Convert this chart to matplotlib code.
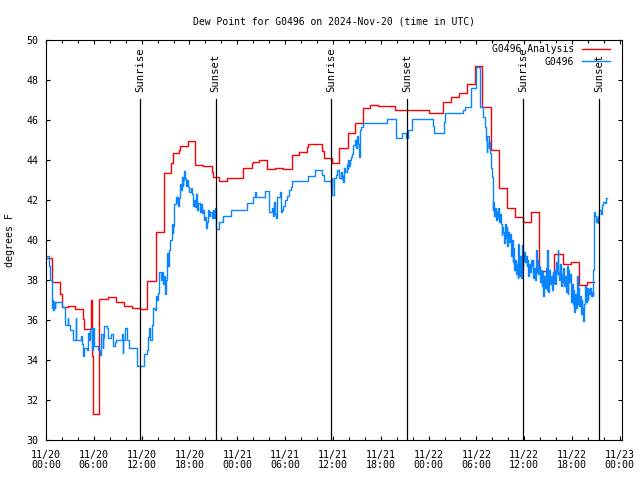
import matplotlib
matplotlib.use('Agg')
import matplotlib.pyplot as plt
from matplotlib.ticker import MultipleLocator

# Hours since 2024-11-20 00:00 UTC, dew point in degrees F
red_hours = [0.0, 0.72, 1.76, 1.95, 2.72, 3.64, 4.68, 4.81, 5.65, 5.81,
             5.93, 6.69, 7.74, 8.75, 9.82, 10.75, 11.79, 12.71, 13.76, 14.84,
             15.68, 15.9, 16.73, 16.81, 17.78, 18.7, 19.74, 20.79, 20.92, 21.74,
             22.75, 24.76, 25.81, 25.94, 26.76, 27.69, 28.73, 29.77, 30.83, 31.78,
             32.71, 32.9, 34.69, 34.82, 35.85, 36.8, 37.85, 38.77, 39.81, 40.65,
             41.66, 43.79, 48.0, 49.85, 50.82, 51.82, 52.79, 53.83, 54.74, 55.8,
             56.84, 57.8, 58.85, 59.89, 60.82, 61.86, 62.82, 63.78, 64.83, 65.87,
             66.88, 67.84, 68.8]
red_dew = [39.1, 37.9, 37.3, 36.65, 36.7, 36.55, 36.05, 35.55, 37.0, 34.2,
           31.3, 37.05, 37.15, 36.9, 36.72, 36.58, 36.55, 37.95, 40.38, 43.33,
           43.87, 44.33, 44.5, 44.7, 44.97, 43.73, 43.7, 43.42, 43.13, 42.95,
           43.08, 43.58, 43.87, 43.9, 43.98, 43.53, 43.58, 43.53, 44.23, 44.38,
           44.67, 44.8, 44.45, 44.08, 43.83, 44.58, 45.37, 45.83, 46.58, 46.75,
           46.7, 46.5, 46.33, 46.88, 47.17, 47.33, 47.8, 48.7, 46.63, 44.5,
           42.58, 41.58, 41.13, 40.92, 41.38, 38.45, 37.87, 39.3, 38.8, 38.88,
           37.73, 37.88, 37.88]

blue_hours = [
    0.0, 0.41, 0.56, 0.69, 0.75, 0.84, 0.92, 1.0, 1.09, 1.17,
    1.97, 2.38, 2.72, 2.8, 3.01, 3.43, 3.73, 3.8, 4.35, 4.48,
    4.68, 4.77, 5.11, 5.31, 5.42, 5.52, 5.83, 5.93, 6.06, 6.46,
    6.78, 6.9, 7.11, 7.19, 7.28, 7.62, 7.82, 8.12, 8.37, 8.66,
    8.78, 9.5, 9.6, 9.72, 9.91, 10.13, 10.45, 11.38, 12.33, 12.63,
    12.84, 12.96, 13.05, 13.26, 13.46, 13.68, 13.8, 13.96, 14.09, 14.22,
    14.39, 14.55, 14.68, 14.81, 14.93, 15.06, 15.14, 15.34, 15.43, 15.56,
    15.77, 15.87, 15.97, 16.1, 16.25, 16.4, 16.47, 16.56, 16.69, 16.81,
    16.91, 17.03, 17.13, 17.23, 17.35, 17.44, 17.56, 17.69, 17.85, 18.0,
    18.13, 18.28, 18.41, 18.51, 18.7, 18.82, 18.95, 19.11, 19.26, 19.39,
    19.54, 19.66, 19.76, 19.95, 20.07, 20.2, 20.36, 20.49, 20.62, 20.77,
    20.93, 21.09, 21.18, 21.3, 21.74, 22.17, 23.21, 25.26, 25.94, 26.23,
    26.29, 27.48, 27.98, 28.32, 28.52, 28.61, 28.73, 28.86, 28.95, 29.37,
    29.5, 29.58, 29.74, 29.99, 30.24, 30.49, 30.68, 30.83, 32.91, 33.75,
    34.59, 34.88, 35.72, 35.82, 35.92, 36.17, 36.39, 36.55, 36.8, 36.95,
    37.1, 37.17, 37.3, 37.42, 37.57, 37.73, 37.83, 37.93, 38.06, 38.14,
    38.23, 38.43, 38.56, 38.77, 38.9, 39.02, 39.15, 39.31, 39.38, 39.52,
    39.81, 42.82, 43.88, 44.63, 45.17, 45.46, 45.88, 48.52, 48.68, 49.94,
    50.06, 52.36, 52.57, 53.32, 53.95, 54.49, 54.87, 55.02, 55.17, 55.27,
    55.39, 55.52, 55.62, 55.71, 55.83, 55.92, 56.04, 56.14, 56.24, 56.33,
    56.43, 56.55, 56.66, 56.75, 56.84, 56.96, 57.06, 57.18, 57.27, 57.38,
    57.49, 57.59, 57.69, 57.8, 57.9, 58.0, 58.13, 58.22, 58.32, 58.43,
    58.53, 58.64, 58.75, 58.85, 58.95, 59.06, 59.16, 59.27, 59.37, 59.47,
    59.58, 59.69, 59.79, 59.89, 60.0, 60.1, 60.2, 60.31, 60.41, 60.52,
    60.62, 60.73, 60.83, 60.94, 61.04, 61.15, 61.25, 61.35, 61.46, 61.57,
    61.67, 61.77, 61.88, 61.98, 62.08, 62.19, 62.29, 62.39, 62.5, 62.61,
    62.71, 62.82, 62.92, 63.02, 63.13, 63.24, 63.34, 63.45, 63.55, 63.65,
    63.76, 63.86, 63.97, 64.08, 64.18, 64.28, 64.39, 64.49, 64.59, 64.7,
    64.81, 64.91, 65.02, 65.12, 65.22, 65.33, 65.43, 65.53, 65.65, 65.75,
    65.85, 65.96, 66.06, 66.16, 66.27, 66.37, 66.47, 66.59, 66.69, 66.79,
    66.9, 67.0, 67.1, 67.21, 67.31, 67.42, 67.53, 67.63, 67.73, 67.84,
    67.94, 68.04, 68.16, 68.26, 68.36, 68.47, 68.6, 68.67, 68.73, 68.8,
    68.88, 68.98, 69.1, 69.2, 69.3, 69.42, 69.58, 69.72, 69.92, 70.14,
    70.22, 70.35]
blue_dew = [
    39.2, 38.7, 38.0, 37.2, 36.6, 37.0, 36.5, 36.9, 36.6, 36.9,
    36.65, 35.75, 36.1, 35.75, 35.5, 35.0, 36.1, 35.0, 35.2, 34.8,
    34.2, 34.6, 34.5, 35.35, 35.0, 35.6, 34.5, 35.6, 34.7, 34.5,
    34.25, 35.3, 34.6, 35.1, 35.7, 35.6, 35.1, 35.3, 34.7, 34.9,
    35.0, 35.3, 34.35, 35.0, 35.6, 35.0, 34.6, 33.7, 34.3, 34.5,
    35.15, 35.6, 35.0, 35.75, 36.6, 36.5, 37.2, 37.0, 37.35, 38.4,
    38.0, 38.4, 37.8, 38.2, 37.3, 38.0, 39.35, 38.7, 39.5, 40.0,
    40.8, 40.35, 40.7, 41.8, 42.15, 41.9, 42.15, 41.7, 42.1, 42.8,
    42.5, 43.15, 42.7, 43.0, 43.45, 43.1, 42.7, 43.0, 42.65, 42.4,
    42.6, 42.3, 41.7, 42.0, 41.65, 42.3, 41.5, 41.85, 41.4, 41.8,
    41.35, 41.5, 41.0, 41.15, 40.6, 40.9, 41.5, 41.2, 41.4, 41.1,
    41.5, 41.1, 41.6, 40.53, 40.9, 41.2, 41.5, 41.83, 42.15, 42.42,
    42.17, 42.45, 41.42, 41.6, 41.2, 41.9, 41.3, 41.08, 42.17, 42.42,
    41.4, 41.5, 41.7, 42.0, 42.2, 42.5, 42.67, 42.95, 43.2, 43.5,
    43.25, 42.95, 42.6, 43.1, 42.25, 43.08, 43.25, 43.5, 43.1, 43.4,
    43.05, 43.2, 42.92, 43.6, 43.4, 43.8, 43.55, 44.0, 43.7, 44.0,
    44.17, 44.3, 44.75, 45.0, 44.6, 45.2, 44.8, 44.17, 45.5, 45.67,
    45.83, 46.05, 45.1, 45.33, 45.08, 45.5, 46.05, 45.7, 45.33, 45.92,
    46.33, 46.5, 46.67, 47.58, 48.63, 46.67, 46.17, 45.67, 45.0, 44.42,
    45.2, 44.6, 44.9, 44.33, 43.6, 43.17, 41.5, 41.9, 41.2, 41.6,
    41.0, 41.4, 41.1, 41.6, 40.9, 41.3, 40.8, 40.25, 40.67, 40.4,
    39.85, 40.8, 40.1, 40.65, 39.7, 40.4, 39.9, 40.3, 39.2, 40.0,
    38.9, 39.6, 38.5, 39.0, 38.3, 38.8, 38.1, 39.8, 38.2, 39.2,
    38.1, 39.75, 38.7, 39.0, 39.4, 38.9, 39.2, 38.7, 39.0, 38.2,
    38.8, 38.4, 39.0, 38.7, 39.0, 38.1, 38.6, 38.0, 39.5, 38.4,
    39.0, 38.3, 38.7, 37.9, 38.5, 37.7, 38.4, 37.2, 38.2, 37.6,
    38.6, 37.5, 39.5, 37.4, 38.5, 37.8, 38.2, 37.5, 38.4, 37.9,
    38.5, 37.8, 38.9, 38.3, 39.5, 38.4, 38.0, 38.8, 37.7, 38.3,
    37.9, 38.6, 37.7, 38.2, 37.4, 38.7, 37.3, 38.5, 37.9, 38.3,
    36.9, 37.8, 36.8, 37.5, 36.4, 37.3, 36.6, 38.2, 36.8, 37.6,
    36.7, 37.2, 36.3, 37.0, 36.6, 35.95, 36.8, 37.7, 36.9, 37.6,
    37.0, 37.5, 37.3, 37.6, 37.2, 37.4, 37.2, 38.5, 40.0, 41.42,
    41.2, 40.9, 41.1, 40.85, 41.2, 41.5, 41.3, 41.75, 41.92, 41.85,
    42.08, 42.08]

sunrise_hours = [11.79, 35.76, 59.89]
sunset_hours = [21.29, 45.35, 69.42]

tick_hours = list(range(0, 73, 6))
tick_labels = ['11/20\n00:00', '11/20\n06:00', '11/20\n12:00', '11/20\n18:00',
               '11/21\n00:00', '11/21\n06:00', '11/21\n12:00', '11/21\n18:00',
               '11/22\n00:00', '11/22\n06:00', '11/22\n12:00', '11/22\n18:00',
               '11/23\n00:00']

plt.rcParams['font.family'] = ['DejaVu Sans Mono']
plt.rcParams['font.size'] = 7

fig = plt.figure(figsize=(6.4, 4.8), dpi=100)
ax = fig.add_axes([0.0719, 0.0833, 0.9, 0.8334])

ax.plot(red_hours, red_dew, drawstyle='steps-post', color='#ff0000',
        lw=1.0, label='G0496 Analysis')
ax.plot(blue_hours, blue_dew, drawstyle='steps-post', color='#0a84ff',
        lw=1.0, label='G0496')

# sunrise / sunset markers
for h in sunrise_hours:
    ax.plot([h, h], [30, 47.05], color='black', lw=0.9)
    ax.text(h, 47.4, 'Sunrise', rotation=90, ha='center', va='bottom',
            fontsize=7.6)
for h in sunset_hours:
    ax.plot([h, h], [30, 47.05], color='black', lw=0.9)
    ax.text(h, 47.4, 'Sunset', rotation=90, ha='center', va='bottom',
            fontsize=7.6)

ax.set_xlim(0, 72.27)
ax.set_ylim(30, 50)
ax.set_xticks(tick_hours)
ax.set_xticklabels(tick_labels, linespacing=1.0)
ax.xaxis.set_minor_locator(MultipleLocator(2))
ax.yaxis.set_major_locator(MultipleLocator(2))
ax.tick_params(which='both', direction='in', top=True, right=True, width=0.8)
ax.tick_params(which='major', length=3.2)
ax.tick_params(which='minor', length=2.2)
ax.tick_params(axis='x', pad=7, labelsize=7.2)
ax.tick_params(axis='y', pad=5.5, labelsize=7.2)
for s in ax.spines.values():
    s.set_linewidth(0.8)

ax.set_ylabel('degrees F', labelpad=8, fontsize=7.2)
ax.set_title('Dew Point for G0496 on 2024-Nov-20 (time in UTC)', pad=11,
             fontsize=7)

ax.legend(loc='upper right', bbox_to_anchor=(0.979, 0.99), frameon=False,
          markerfirst=False, borderpad=0, borderaxespad=0, handlelength=2.9,
          handletextpad=0.8, labelspacing=0.3)

fig.savefig('out.png', dpi=100)
